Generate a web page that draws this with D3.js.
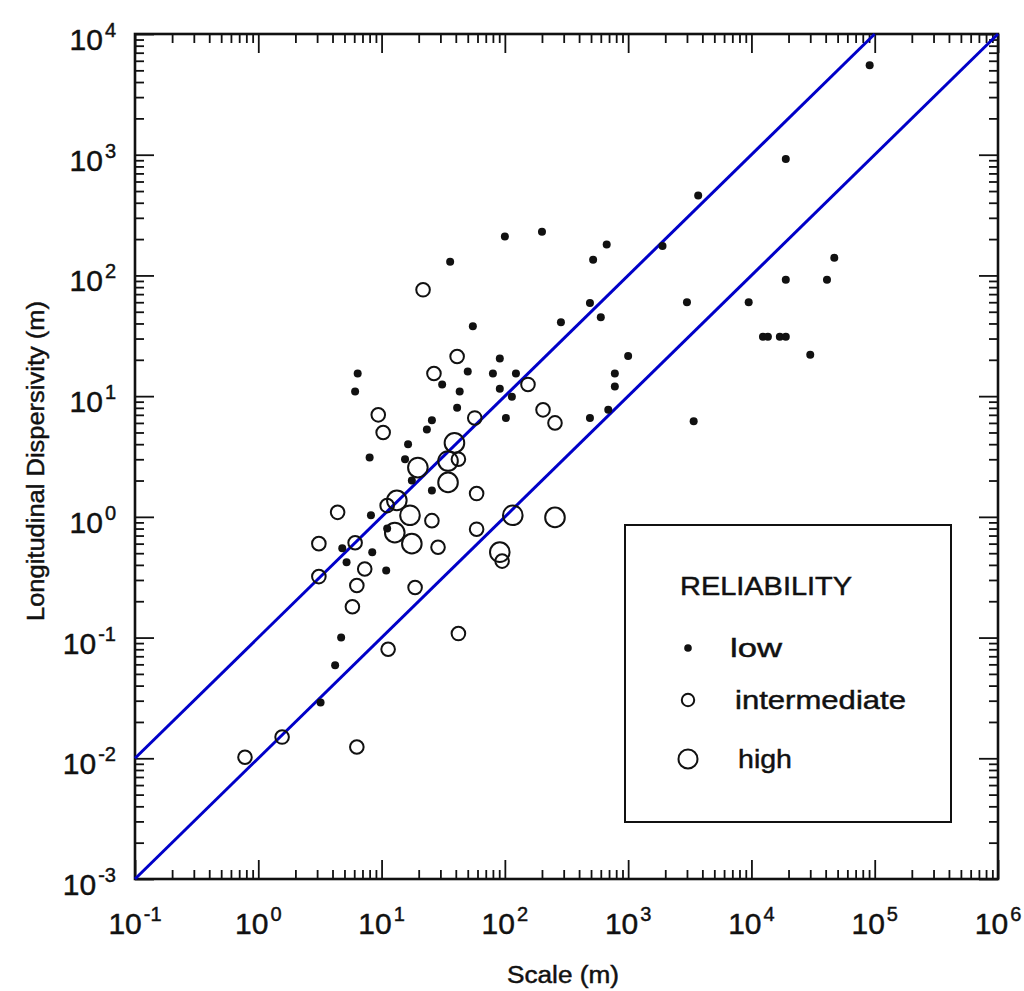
<!DOCTYPE html>
<html>
<head>
<meta charset="utf-8">
<script src="https://cdn.jsdelivr.net/npm/d3@7"></script>
<style>
  html, body { margin: 0; padding: 0; background: #fff; }
  svg { display: block; font-family: "Liberation Sans", Arial, Helvetica, sans-serif; }
  svg text { stroke: #111; stroke-width: 0.45px; }
</style>
</head>
<body>
<svg id="chart" width="1024" height="991"></svg>
<script>
// Field-scale longitudinal dispersivity data, grouped by reliability class.
// Scale (m) and dispersivity (m) values.
const lowScale = [91000, 19000, 3700, 1900, 670, 520, 200, 100, 36, 47000, 41000, 19000,
  9500, 3000, 490, 600, 285, 55, 1000, 12400, 13600, 17000, 19000, 30000, 780, 780, 690,
  490, 3400, 91, 50, 80, 123, 31, 43, 91, 114, 41, 102, 25.6, 23.3, 6.4, 6.1, 8, 16.4,
  15.5, 17.6, 25.6, 8.2, 11.1, 4.8, 8.4, 5.2, 10.9, 4.7, 4.2, 3.2];
const lowDisp = [5500, 920, 460, 175, 180, 135, 230, 210, 130, 140, 92, 92,
  60, 60, 59, 45, 41, 38, 21.5, 31, 31, 31, 31, 22, 15.4, 12, 7.7,
  6.6, 6.2, 20.5, 16, 15.4, 15.4, 12.5, 10.9, 11.5, 9.9, 8, 6.6, 6.3, 5.3, 15.4, 10.9, 3.1, 4.0,
  3.0, 2.0, 1.65, 1.03, 0.80, 0.55, 0.51, 0.42, 0.36, 0.10, 0.059, 0.029];

const intScale = [0.78, 1.56, 6.3, 3.1, 6.1, 4.4, 3.1, 6.3, 5.8, 7.3, 11.1, 9.4, 10.3,
  21.7, 26.6, 41, 154, 204, 255, 57, 42, 59, 25.6, 59, 28.7, 18.7, 11.3, 42, 95];
const intDisp = [0.0102, 0.015, 0.0124, 0.60, 0.61, 1.09, 0.32, 0.27, 0.18, 0.37, 1.24, 7.0, 5.0,
  76, 15.4, 21.3, 12.5, 7.7, 6.0, 6.6, 3.0, 1.56, 0.93, 0.79, 0.56, 0.26, 0.080, 0.108, 0.43];

const highScale = [13.3, 17, 12.8, 17.6, 19.7, 34.6, 39, 34.6, 116, 255, 91];
const highDisp  = [1.37, 1.03, 0.74, 0.60, 2.56, 2.9, 4.1, 1.93, 1.03, 0.99, 0.51];

// Reference lines: dispersivity = ratio * scale
const refRatios = [0.1, 0.01];

// Axis decades (powers of ten)
const xDecades = [-1, 0, 1, 2, 3, 4, 5, 6];
const yDecades = [-3, -2, -1, 0, 1, 2, 3, 4];

const legendTitle = "RELIABILITY";
const legendLabels = ["low", "intermediate", "high"];

const svg = d3.select("#chart");
const plotL = 135, plotR = 998, plotT = 34, plotB = 879;

const x = d3.scaleLog().domain([1e-1, 1e6]).range([plotL, plotR]);
const y = d3.scaleLog().domain([1e-3, 1e4]).range([plotB, plotT]);

function minorTicks(decs) {
  const out = [];
  for (let i = 0; i < decs.length - 1; i++) {
    for (let k = 2; k <= 9; k++) out.push(k * Math.pow(10, decs[i]));
  }
  return out;
}
const xMajor = xDecades.map(d => Math.pow(10, d));
const yMajor = yDecades.map(d => Math.pow(10, d));
const xMinor = minorTicks(xDecades);
const yMinor = minorTicks(yDecades);

const majLen = 19, minLen = 9;

function styleAxis(g) {
  g.select(".domain").remove();
  g.selectAll(".tick line").attr("stroke", "#111").attr("stroke-width", 1.8);
  g.selectAll(".tick text").remove();
}

// Inward-pointing ticks on all four sides
svg.append("g").attr("transform", `translate(0,${plotB})`)
  .call(d3.axisBottom(x).tickValues(xMajor).tickSize(-majLen).tickFormat("")).call(styleAxis);
svg.append("g").attr("transform", `translate(0,${plotB})`)
  .call(d3.axisBottom(x).tickValues(xMinor).tickSize(-minLen).tickFormat("")).call(styleAxis);
svg.append("g").attr("transform", `translate(0,${plotT})`)
  .call(d3.axisTop(x).tickValues(xMajor).tickSize(-majLen).tickFormat("")).call(styleAxis);
svg.append("g").attr("transform", `translate(0,${plotT})`)
  .call(d3.axisTop(x).tickValues(xMinor).tickSize(-minLen).tickFormat("")).call(styleAxis);
svg.append("g").attr("transform", `translate(${plotL},0)`)
  .call(d3.axisLeft(y).tickValues(yMajor).tickSize(-majLen).tickFormat("")).call(styleAxis);
svg.append("g").attr("transform", `translate(${plotL},0)`)
  .call(d3.axisLeft(y).tickValues(yMinor).tickSize(-minLen).tickFormat("")).call(styleAxis);
svg.append("g").attr("transform", `translate(${plotR},0)`)
  .call(d3.axisRight(y).tickValues(yMajor).tickSize(-majLen).tickFormat("")).call(styleAxis);
svg.append("g").attr("transform", `translate(${plotR},0)`)
  .call(d3.axisRight(y).tickValues(yMinor).tickSize(-minLen).tickFormat("")).call(styleAxis);

// Plot frame
svg.append("rect")
  .attr("x", plotL).attr("y", plotT)
  .attr("width", plotR - plotL).attr("height", plotB - plotT)
  .attr("fill", "none").attr("stroke", "#111").attr("stroke-width", 2.6);

// Power-of-ten tick labels
function powerLabel(g, exp) {
  g.append("tspan").text("10");
  g.append("tspan").attr("font-size", 20).attr("dx", 2).attr("dy", -13).text(String(exp));
}
xDecades.forEach(d => {
  const t = svg.append("text")
    .attr("x", x(Math.pow(10, d))).attr("y", 934)
    .attr("text-anchor", "middle").attr("font-size", 30).attr("fill", "#111");
  powerLabel(t, d);
});
yDecades.forEach(d => {
  const t = svg.append("text")
    .attr("x", 116).attr("y", y(Math.pow(10, d)) + 16)
    .attr("text-anchor", "end").attr("font-size", 30).attr("fill", "#111");
  powerLabel(t, d);
});

// Axis titles
svg.append("text")
  .attr("x", 563).attr("y", 983).attr("text-anchor", "middle")
  .attr("font-size", 23).attr("fill", "#111")
  .attr("textLength", 112).attr("lengthAdjust", "spacingAndGlyphs")
  .text("Scale (m)");
svg.append("text")
  .attr("transform", "translate(44,461) rotate(-90)")
  .attr("text-anchor", "middle").attr("font-size", 23).attr("fill", "#111")
  .attr("textLength", 320).attr("lengthAdjust", "spacingAndGlyphs")
  .text("Longitudinal  Dispersivity  (m)");

// Reference lines
const refColor = "#0000c8";
refRatios.forEach(r => {
  const x0 = 1e-1;
  const x1 = Math.min(1e6, 1e4 / r);
  svg.append("line")
    .attr("x1", x(x0)).attr("y1", y(x0 * r))
    .attr("x2", x(x1)).attr("y2", y(x1 * r))
    .attr("stroke", refColor).attr("stroke-width", 3);
});

// Data points
const pts = svg.append("g");
pts.selectAll(".low").data(d3.zip(lowScale, lowDisp)).join("circle")
  .attr("class", "low")
  .attr("cx", d => x(d[0])).attr("cy", d => y(d[1])).attr("r", 4)
  .attr("fill", "#111");
pts.selectAll(".mid").data(d3.zip(intScale, intDisp)).join("circle")
  .attr("class", "mid")
  .attr("cx", d => x(d[0])).attr("cy", d => y(d[1])).attr("r", 6.8)
  .attr("fill", "none").attr("stroke", "#111").attr("stroke-width", 2);
pts.selectAll(".high").data(d3.zip(highScale, highDisp)).join("circle")
  .attr("class", "high")
  .attr("cx", d => x(d[0])).attr("cy", d => y(d[1])).attr("r", 9.8)
  .attr("fill", "none").attr("stroke", "#111").attr("stroke-width", 2);

// Legend
const lg = svg.append("g");
lg.append("rect").attr("x", 625).attr("y", 525).attr("width", 326).attr("height", 297)
  .attr("fill", "#fff").attr("stroke", "#111").attr("stroke-width", 2);
lg.append("text").attr("x", 680).attr("y", 595).attr("font-size", 25).attr("fill", "#111")
  .attr("textLength", 172).attr("lengthAdjust", "spacingAndGlyphs").text(legendTitle);
const legendRows = [
  { y: 648, r: 3.8, fill: "#111", label: legendLabels[0], tx: 730, len: 52 },
  { y: 700, r: 6.2, fill: "none", label: legendLabels[1], tx: 735, len: 171 },
  { y: 759, r: 9.5, fill: "none", label: legendLabels[2], tx: 738, len: 54 }
];
legendRows.forEach(row => {
  lg.append("circle").attr("cx", 688).attr("cy", row.y).attr("r", row.r)
    .attr("fill", row.fill).attr("stroke", row.fill === "none" ? "#111" : null)
    .attr("stroke-width", 2);
  lg.append("text").attr("x", row.tx).attr("y", row.y + 9).attr("font-size", 26)
    .attr("fill", "#111").attr("textLength", row.len).attr("lengthAdjust", "spacingAndGlyphs")
    .text(row.label);
});
</script>
</body>
</html>
